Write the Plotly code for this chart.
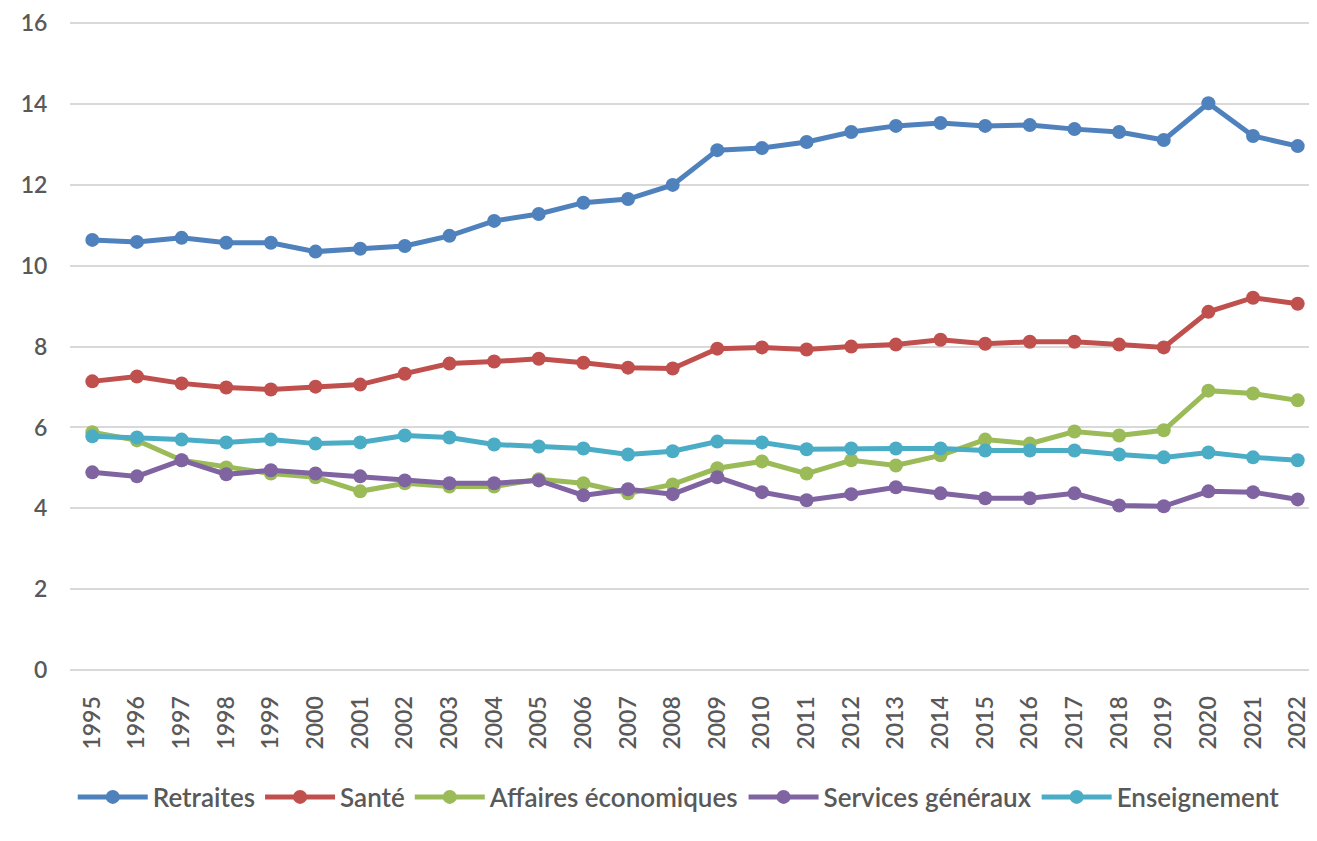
import plotly.graph_objects as go

years = [str(y) for y in range(1995, 2023)]

retraites = [10.64, 10.59, 10.69, 10.57, 10.57, 10.35, 10.42, 10.49, 10.74, 11.11,
             11.28, 11.56, 11.65, 12.00, 12.86, 12.91, 13.06, 13.31, 13.46, 13.53,
             13.46, 13.48, 13.38, 13.31, 13.11, 14.02, 13.21, 12.96]
sante = [7.14, 7.26, 7.09, 6.99, 6.94, 7.01, 7.06, 7.33, 7.58, 7.63,
         7.70, 7.60, 7.48, 7.46, 7.95, 7.98, 7.93, 8.00, 8.05, 8.17,
         8.07, 8.12, 8.12, 8.05, 7.98, 8.86, 9.21, 9.06]
affaires = [5.88, 5.68, 5.19, 5.01, 4.86, 4.77, 4.42, 4.62, 4.54, 4.54,
            4.72, 4.62, 4.37, 4.59, 4.99, 5.16, 4.86, 5.19, 5.06, 5.31,
            5.70, 5.60, 5.90, 5.80, 5.93, 6.91, 6.84, 6.67]
services = [4.89, 4.79, 5.19, 4.84, 4.94, 4.86, 4.79, 4.69, 4.62, 4.62,
            4.69, 4.32, 4.47, 4.35, 4.77, 4.40, 4.20, 4.35, 4.52, 4.37,
            4.25, 4.25, 4.37, 4.07, 4.05, 4.42, 4.40, 4.22]
enseignement = [5.78, 5.75, 5.70, 5.63, 5.70, 5.60, 5.63, 5.80, 5.75, 5.58,
                5.53, 5.48, 5.33, 5.41, 5.65, 5.63, 5.46, 5.48, 5.48, 5.48,
                5.43, 5.43, 5.43, 5.33, 5.26, 5.38, 5.26, 5.19]

series_names = ["Retraites", "Santé", "Affaires économiques", "Services généraux", "Enseignement"]
series_values = [retraites, sante, affaires, services, enseignement]
colors = ["#4F81BD", "#C0504D", "#9BBB59", "#8064A2", "#4BACC6"]

fig = go.Figure()
for name, vals, col in zip(series_names, series_values, colors):
    fig.add_trace(go.Scatter(
        x=years, y=vals, name=name, mode="lines+markers",
        line=dict(color=col, width=5),
        marker=dict(color=col, size=14),
    ))

font_family = "Lato, 'Liberation Sans', sans-serif"
tick_font = dict(family=font_family, size=23, color="#595959", weight=600)
fig.update_layout(
    width=1317, height=841,
    margin=dict(l=62, r=5, t=14, b=179),
    paper_bgcolor="white", plot_bgcolor="white",
    font=dict(family=font_family, color="#595959", size=18),
    showlegend=True,
    legend=dict(orientation="h", x=0.487, xanchor="center", y=-0.196, yanchor="middle",
                font=dict(family=font_family, size=26, color="#595959", weight=600),
                itemwidth=70, tracegroupgap=0),
    xaxis=dict(type="category", tickangle=-90, showgrid=False, showline=False,
               tickfont=tick_font, ticks="outside", ticklen=16, automargin=False,
               tickcolor="rgba(0,0,0,0)", range=[-0.5, 27.5]),
    yaxis=dict(range=[0, 16.03], tickvals=[0, 2, 4, 6, 8, 10, 12, 14, 16],
               showgrid=True, gridcolor="#D9D9D9", gridwidth=1.5,
               zeroline=True, zerolinecolor="#D9D9D9", zerolinewidth=1.5,
               tickfont=tick_font, ticks="outside", ticklen=17, automargin=False,
               tickcolor="rgba(0,0,0,0)", ticklabeloverflow="allow"),
)

fig.write_html("out.html")
